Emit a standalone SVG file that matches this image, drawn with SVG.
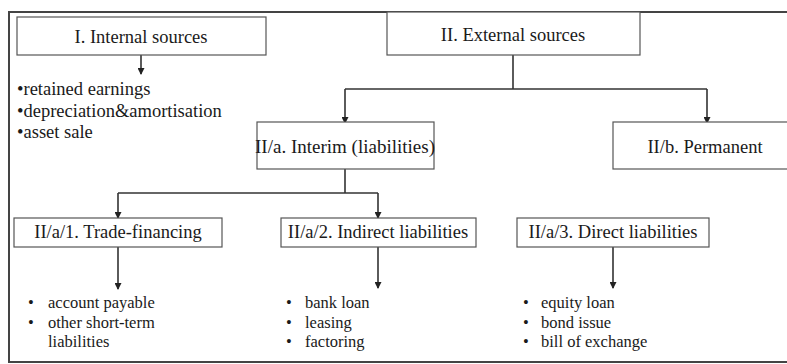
<svg xmlns="http://www.w3.org/2000/svg" width="787" height="364" viewBox="0 0 787 364" font-family="'Liberation Serif', 'Times New Roman', 'DejaVu Serif', serif">
<style>
.box{fill:#fff;stroke:#555;stroke-width:1.2}
text{font-family:'Liberation Serif','Times New Roman','DejaVu Serif',serif;fill:#1a1a1a}
.lbl{font-size:18.5px;text-anchor:middle}
.lst{font-size:18.5px}
.sm{font-size:16.5px}
.con{fill:none;stroke:#333;stroke-width:1.6}
</style>
<defs>
<marker id="a" markerUnits="userSpaceOnUse" markerWidth="7" markerHeight="7" refX="6" refY="3.5" orient="auto" viewBox="0 0 7 7">
<path d="M0,0 L7,3.5 L0,7 Z" fill="#222"/>
</marker>
</defs>
<rect x="9" y="12" width="800" height="350" fill="#fff" stroke="#444" stroke-width="2"/>
<g id="connectors">
<line class="con" x1="141" y1="55" x2="141" y2="74" marker-end="url(#a)"/>
<polyline class="con" points="513,55 513,89"/>
<polyline class="con" points="345,89 707,89"/>
<line class="con" x1="345" y1="89" x2="345" y2="123" marker-end="url(#a)"/>
<line class="con" x1="707" y1="89" x2="707" y2="123" marker-end="url(#a)"/>
<polyline class="con" points="345,169 345,193"/>
<polyline class="con" points="118,193 378,193"/>
<line class="con" x1="118" y1="193" x2="118" y2="218" marker-end="url(#a)"/>
<line class="con" x1="378" y1="193" x2="378" y2="218" marker-end="url(#a)"/>
<line class="con" x1="118" y1="247" x2="118" y2="289" marker-end="url(#a)"/>
<line class="con" x1="378" y1="247" x2="378" y2="288" marker-end="url(#a)"/>
<line class="con" x1="613" y1="247" x2="613" y2="288" marker-end="url(#a)"/>
</g>
<g id="internal">
<rect class="box" x="17" y="17" width="249" height="38"/>
<text class="lbl" x="141" y="43">I. Internal sources</text>
</g>
<g id="internal-list">
<text class="lst" x="17" y="95">•retained earnings</text>
<text class="lst" x="17" y="117">•depreciation&amp;amortisation</text>
<text class="lst" x="17" y="138">•asset sale</text>
</g>
<g id="external">
<rect class="box" x="387" y="12" width="253" height="43"/>
<text class="lbl" x="513" y="41">II. External sources</text>
</g>
<g id="interim">
<rect class="box" x="257" y="122" width="177" height="47"/>
<text class="lbl" x="345" y="153" style="font-size:19px">II/a. Interim (liabilities)</text>
</g>
<g id="permanent">
<rect class="box" x="613" y="122" width="200" height="47"/>
<text class="lbl" x="705" y="153">II/b. Permanent</text>
</g>
<g id="trade">
<rect class="box" x="14" y="218" width="208" height="29"/>
<text class="lbl" x="118" y="238">II/a/1. Trade-financing</text>
</g>
<g id="indirect">
<rect class="box" x="281" y="218" width="195" height="29"/>
<text class="lbl" x="378" y="238">II/a/2. Indirect liabilities</text>
</g>
<g id="direct">
<rect class="box" x="517" y="218" width="192" height="29"/>
<text class="lbl" x="613" y="238">II/a/3. Direct liabilities</text>
</g>
<g id="trade-list">
<text class="sm" x="28" y="308">•</text><text class="sm" x="48" y="308">account payable</text>
<text class="sm" x="28" y="328">•</text><text class="sm" x="48" y="328">other short-term</text>
<text class="sm" x="48" y="347">liabilities</text>
</g>
<g id="indirect-list">
<text class="sm" x="286" y="308">•</text><text class="sm" x="305" y="308">bank loan</text>
<text class="sm" x="286" y="328">•</text><text class="sm" x="305" y="328">leasing</text>
<text class="sm" x="286" y="347">•</text><text class="sm" x="305" y="347">factoring</text>
</g>
<g id="direct-list">
<text class="sm" x="523" y="308">•</text><text class="sm" x="541" y="308">equity loan</text>
<text class="sm" x="523" y="328">•</text><text class="sm" x="541" y="328">bond issue</text>
<text class="sm" x="523" y="347">•</text><text class="sm" x="541" y="347">bill of exchange</text>
</g>
</svg>
